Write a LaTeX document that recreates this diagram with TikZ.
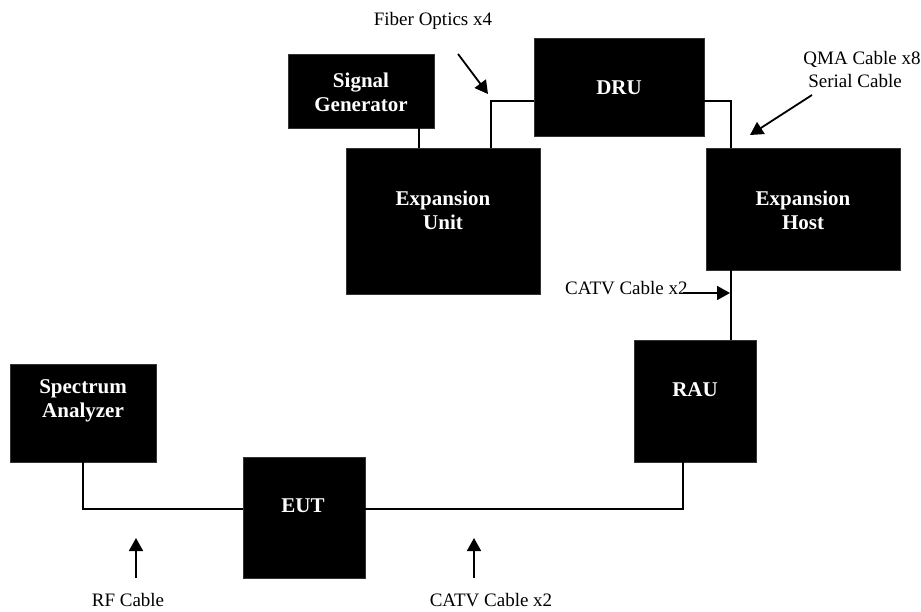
\documentclass[tikz,border=0pt]{standalone}
\usepackage{fontspec}
\setmainfont{Liberation Serif}
\usetikzlibrary{arrows.meta}
\begin{document}
\begin{tikzpicture}[x=1pt,y=-1pt,
  box/.style={fill=black,draw=black!80,line width=0.6pt,inner sep=0pt},
  boxtext/.style={text=white,font=\fontsize{21}{24}\selectfont\bfseries,align=center,inner sep=0pt},
  lbl/.style={font=\fontsize{19}{22}\selectfont,align=center,inner sep=0pt},
  wire/.style={line width=1.5pt},
  pointer/.style={line width=1.8pt,-{Triangle[length=13pt,width=14pt]}}]
\useasboundingbox (0,0) rectangle (921,611);
% boxes
\node[box,minimum width=146pt,minimum height=74pt] (sg) at (361,91) {};
\node[box,minimum width=170pt,minimum height=98pt] (dru) at (619,87) {};
\node[box,minimum width=194pt,minimum height=146pt] (eu) at (443,221) {};
\node[box,minimum width=194pt,minimum height=122pt] (eh) at (803,209) {};
\node[box,minimum width=122pt,minimum height=122pt] (rau) at (695,401) {};
\node[box,minimum width=146pt,minimum height=98pt] (sa) at (83,413) {};
\node[box,minimum width=122pt,minimum height=121pt] (eut) at (304,517.5) {};
% box texts
\node[boxtext] (sgT) at (361,92) {Signal\\Generator};
\node[boxtext] (druT) at (619,88) {DRU};
\node[boxtext] (euT) at (443,210) {Expansion\\Unit};
\node[boxtext] (ehT) at (803,210) {Expansion\\Host};
\node[boxtext] (rauT) at (695,390) {RAU};
\node[boxtext] (saT) at (83,401) {Spectrum\\Analyzer};
\node[boxtext] (eutT) at (303,506) {EUT};
% connectors
\coordinate (xsg) at (419,0);
\coordinate (xeu) at (491,0);
\coordinate (xeh) at (731,101);
\coordinate (xrau) at (683,509);
\coordinate (xsa) at (83,509);
\draw[wire] (sg.south -| xsg) -- (eu.north -| xsg);
\draw[wire] (eu.north -| xeu) |- (dru.west |- xeh);
\draw[wire] (dru.east |- xeh) -| (eh.north -| xeh);
\draw[wire] (eh.south -| xeh) -- (rau.north -| xeh);
\draw[wire] (rau.south -| xrau) |- (eut.east |- xrau);
\draw[wire] (sa.south -| xsa) |- (eut.west |- xsa);
% labels
\node[lbl] (fo) at (433,21) {Fiber Optics x4};
\node[lbl] (qma) at (862,59) {QMA Cable x8};
\node[lbl] (ser) at (855,81) {Serial Cable};
\node[lbl,anchor=west] (catv1) at (565,288) {CATV Cable x2};
\node[lbl] (rf) at (128,600) {RF Cable};
\node[lbl] (catv2) at (491,600) {CATV Cable x2};
% pointer arrows
\coordinate (a1s) at (458,54); \coordinate (a1e) at (488,94);
\coordinate (a2s) at (812,95); \coordinate (a2e) at (750,135);
\coordinate (a3s) at (683,293); \coordinate (a3e) at (730,293);
\coordinate (a4s) at (136,578); \coordinate (a4e) at (136,538);
\coordinate (a5s) at (474,578); \coordinate (a5e) at (474,538);
\draw[pointer] (a1s) -- (a1e);
\draw[pointer] (a2s) -- (a2e);
\draw[pointer] (a3s) -- (a3e);
\draw[pointer] (a4s) -- (a4e);
\draw[pointer] (a5s) -- (a5e);
\end{tikzpicture}
\end{document}
